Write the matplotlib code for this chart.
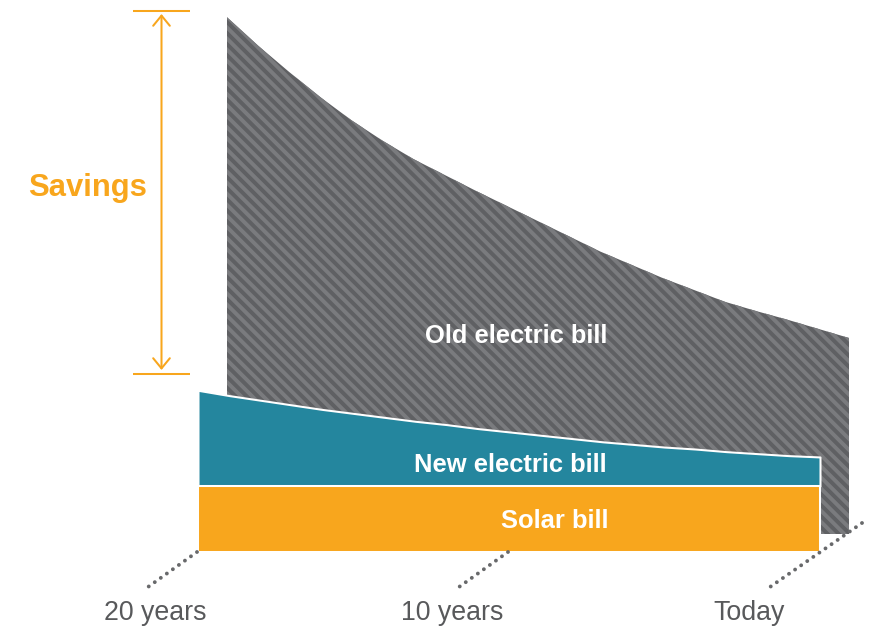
import numpy as np
import matplotlib
matplotlib.use('Agg')
import matplotlib.pyplot as plt

# values (monthly cost units, solar bill = 100)
years = list(range(0, 21))
old_bill = [297, 311, 325, 338, 352, 370, 388, 408, 428, 451, 474,
            497, 520, 544, 568, 596, 627, 662, 700, 740, 783]
new_bill = [44, 46, 49, 52, 56, 59, 63, 67, 72, 77, 82,
            87, 93, 98, 104, 110, 116, 123, 130, 137, 145]
solar_bill = [100] * 21
tick_years = [20, 10, 0]
tick_labels = ['20 years', '10 years', 'Today']

DPI = 133
W, H = 883, 632
PX_YEAR = 31.1      # pixels per year
X0 = 820            # pixel column of "today" on the front plane
BASE = 552          # pixel row of the baseline
PX_UNIT = 0.66      # pixels per cost unit
DEPTH = (29, 18)    # back plane offset in pixels (right, up)

ORANGE = '#f8a61d'
TEAL = '#24869e'
GRAY = '#5f6063'
STRIPE = '#7a7b7e'
TXT = '#58595b'

plt.rcParams['font.family'] = ['Liberation Sans', 'DejaVu Sans']
plt.rcParams['hatch.linewidth'] = 2.1

fig = plt.figure(figsize=(W / DPI, H / DPI), dpi=DPI)
ax = fig.add_axes([0, 0, 1, 1])
ax.set_xlim(X0 / PX_YEAR, (X0 - W) / PX_YEAR)
ax.set_ylim((BASE - H) / PX_UNIT, BASE / PX_UNIT)
ax.axis('off')


def px(x, y):
    # pixel position -> data position (for layout items only)
    return (X0 - x) / PX_YEAR, (BASE - y) / PX_UNIT


yrs = np.array(years, dtype=float)
old = np.array(old_bill, dtype=float)
new = np.array(new_bill, dtype=float)
solar = np.array(solar_bill, dtype=float)

# old bill sits on the back plane
dx = DEPTH[0] / PX_YEAR
dy = DEPTH[1] / PX_UNIT
ax.fill_between(yrs - dx, dy, old + dy, facecolor=GRAY, edgecolor=STRIPE,
                hatch='\\' * 4, linewidth=0, zorder=1)

ax.fill_between(yrs, solar, solar + new, facecolor=TEAL, edgecolor='white',
                linewidth=1.1, zorder=2)
ax.fill_between(yrs, 0, solar, facecolor=ORANGE, edgecolor='white',
                linewidth=1.1, zorder=3)

# labels inside the bands
bold = dict(color='white', fontsize=13.8, fontweight='bold', ha='center',
            va='baseline', zorder=5)
ax.text(*px(516, 343), 'Old electric bill', **bold)
ax.text(*px(510, 472), 'New electric bill', **bold)
ax.text(*px(555, 528), 'Solar bill', **bold)

# dotted depth lines at the ticks
for t in tick_years:
    fx = X0 - t * PX_YEAR
    start = (fx + 42, BASE - 29) if t == 0 else (fx - 1, BASE)
    end = (fx - 50, BASE + 35)
    xs, ys = zip(px(*start), px(*end))
    ax.plot(xs, ys, color='#68696b', lw=2.1, linestyle=(0, (0.01, 1.9)),
            dash_capstyle='round', zorder=4)

label_px = [155, 452, 749]
for lx, lab in zip(label_px, tick_labels):
    ax.text(*px(lx, 620), lab, color=TXT, fontsize=14.5, ha='center',
            va='baseline')

# savings bracket
for yy in (10.5, 374):
    xs, ys = zip(px(133, yy), px(190, yy))
    ax.plot(xs, ys, color=ORANGE, lw=1.1, solid_capstyle='butt')
ax.annotate('', xy=px(161.5, 14), xytext=px(161.5, 370),
            arrowprops=dict(arrowstyle='<->,head_length=0.55,head_width=0.45',
                            color=ORANGE, lw=1.1, mutation_scale=10,
                            shrinkA=0, shrinkB=0))
ax.text(*px(88, 196), 'Savings', color=ORANGE, fontsize=16.8,
        fontweight='bold', ha='center', va='baseline')

fig.savefig('out.png', dpi=DPI)
